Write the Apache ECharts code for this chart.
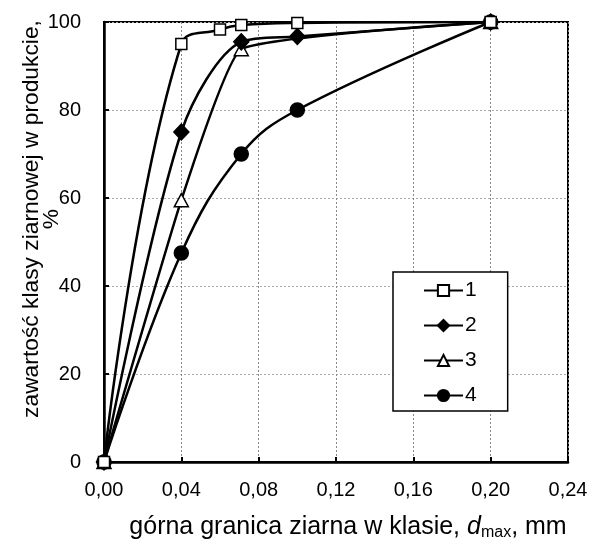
<!DOCTYPE html>
<html><head><meta charset="utf-8">
<script src="https://cdn.jsdelivr.net/npm/echarts@6/dist/echarts.min.js"></script>
<style>html,body{margin:0;padding:0;background:#fff}#c{width:597px;height:541px}</style>
</head><body><div id="c"></div>
<script>
const seriesNames = ['1', '2', '3', '4'];
const x1 = [0, 0.04, 0.06, 0.071, 0.10, 0.20];
const y1 = [0, 95, 98.3, 99.3, 99.8, 100];
const x2 = [0, 0.04, 0.071, 0.10, 0.20];
const y2 = [0, 75, 95.5, 96.7, 100];
const x3 = [0, 0.04, 0.071, 0.20];
const y3 = [0, 59.5, 93.8, 100];
const x4 = [0, 0.04, 0.071, 0.10, 0.20];
const y4 = [0, 47.5, 70, 80, 100];
const xTickLabels = ['0,00', '0,04', '0,08', '0,12', '0,16', '0,20', '0,24'];
const yTickLabels = ['0', '20', '40', '60', '80', '100'];

const FONT = '"Liberation Sans", Arial, sans-serif';
const pairs = (xs, ys) => xs.map((x, i) => [x, ys[i]]);

const symbols = [
  { symbol: 'rect', size: 11, fill: '#fff', smooth: 0.45 },
  { symbol: 'diamond', size: [15, 16], fill: '#000', smooth: 0.3 },
  { symbol: 'triangle', size: [14, 13], fill: '#fff', smooth: 0.12 },
  { symbol: 'circle', size: 14, fill: '#000', smooth: 0.4 }
];
const data = [pairs(x1, y1), pairs(x2, y2), pairs(x3, y3), pairs(x4, y4)];

const chart = echarts.init(document.getElementById('c'), null, { renderer: 'canvas' });
chart.setOption({
  animation: false,
  backgroundColor: '#fff',
  grid: {
    left: 104, right: 29, top: 22, bottom: 79,
    outerBoundsMode: 'none', containLabel: false,
    show: true, borderColor: '#000', borderWidth: 2, backgroundColor: 'transparent'
  },
  legend: {
    orient: 'vertical',
    left: 393, top: 272,
    padding: [8, 31, 5, 30],
    itemWidth: 39, itemHeight: 14, itemGap: 14,
    backgroundColor: '#fff',
    borderColor: '#000', borderWidth: 1.5,
    data: seriesNames,
    textStyle: { fontFamily: FONT, fontSize: 21, color: '#000', lineHeight: 21, padding: [0, 0, 0, -3] }
  },
  xAxis: {
    type: 'value', min: 0, max: 0.24, interval: 0.04,
    axisLine: { show: true, lineStyle: { color: '#000', width: 2.5 } },
    axisTick: { show: true, inside: true, length: 5, lineStyle: { color: '#000', width: 2 } },
    splitLine: { show: true, lineStyle: { color: '#888', type: [2, 2], width: 1 } },
    axisLabel: {
      fontFamily: FONT, fontSize: 20, color: '#000', margin: 18,
      formatter: (v) => xTickLabels[Math.round(v / 0.04)]
    },
    name: 'górna granica ziarna w klasie, {i|d}{s|max}, mm',
    nameLocation: 'middle', nameGap: 52,
    nameTextStyle: {
      fontFamily: FONT, fontSize: 25, color: '#000', lineHeight: 27,
      padding: [0, 0, 0, 24],
      rich: {
        i: { fontFamily: FONT, fontSize: 25, fontStyle: 'italic', color: '#000', lineHeight: 27 },
        s: { fontFamily: FONT, fontSize: 16, color: '#000', lineHeight: 16, verticalAlign: 'bottom' }
      }
    }
  },
  yAxis: {
    type: 'value', min: 0, max: 100, interval: 20,
    axisLine: { show: true, lineStyle: { color: '#000', width: 2.5 } },
    axisTick: { show: true, inside: true, length: 5, lineStyle: { color: '#000', width: 2 } },
    splitLine: { show: true, lineStyle: { color: '#aaa', type: [2, 2], width: 1 } },
    axisLabel: {
      fontFamily: FONT, fontSize: 20, color: '#000', margin: 23,
      formatter: (v) => yTickLabels[Math.round(v / 20)]
    },
    name: 'zawartość klasy ziarnowej w produkcie,\n%',
    nameLocation: 'middle', nameRotate: 90, nameGap: 42,
    nameMoveOverlap: false,
    nameTextStyle: {
      fontFamily: FONT, fontSize: 22.8, color: '#000', lineHeight: 20,
      padding: [0, 0, 0, 46]
    }
  },
  series: seriesNames.map((n, i) => ({
    name: n,
    type: 'line',
    data: data[i],
    smooth: symbols[i].smooth,
    symbol: symbols[i].symbol,
    symbolSize: symbols[i].size,
    showAllSymbol: true,
    lineStyle: { color: '#000', width: 2.5 },
    itemStyle: { color: symbols[i].fill, borderColor: '#000', borderWidth: 1.5 },
    z: 3 + (4 - i)
  }))
});
</script>
</body></html>
